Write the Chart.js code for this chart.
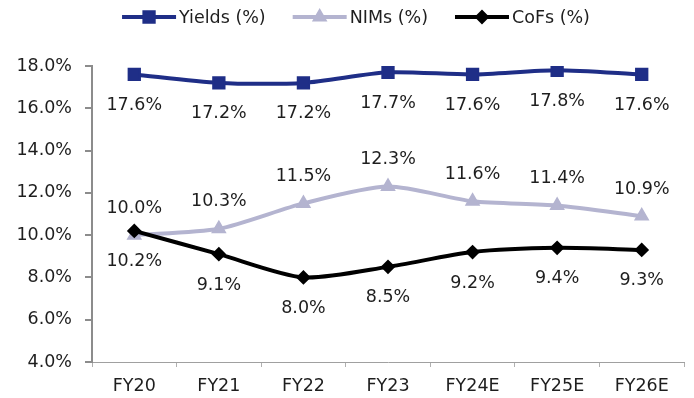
<!DOCTYPE html>
<html>
<head>
<meta charset="utf-8">
<script src="https://cdn.jsdelivr.net/npm/chart.js@4.4.1/dist/chart.umd.min.js"></script>
<style>
  html, body { margin: 0; padding: 0; background: #fff; }
  #wrap { width: 694px; height: 398px; }
</style>
</head>
<body>
<div id="wrap"><canvas id="ratesChart"></canvas></div>
<script>
// data
const years = ['FY20', 'FY21', 'FY22', 'FY23', 'FY24E', 'FY25E', 'FY26E'];
const yields = [17.6, 17.2, 17.2, 17.7, 17.6, 17.8, 17.6];
const nims = [10.0, 10.3, 11.5, 12.3, 11.6, 11.4, 10.9];
const cofs = [10.2, 9.1, 8.0, 8.5, 9.2, 9.4, 9.3];
const yTicks = [4, 6, 8, 10, 12, 14, 16, 18];

const FONT = 'DejaVu Sans';
const NAVY = '#1f2e87';
const LAV = '#b4b4d0';
const BLACK = '#000000';

// where each series puts its value label (px from the point)
const labelOffset = [31, -27, 31];

const valueLabels = {
    id: 'valueLabels',
    afterDatasetsDraw(chart) {
        const ctx = chart.ctx;
        ctx.save();
        ctx.font = '17.5px "' + FONT + '"';
        ctx.fillStyle = '#1e1e1e';
        ctx.textAlign = 'center';
        ctx.textBaseline = 'middle';
        chart.data.datasets.forEach((ds, i) => {
            chart.getDatasetMeta(i).data.forEach((pt, j) => {
                ctx.fillText(ds.data[j].toFixed(1) + '%', pt.x, pt.y + labelOffset[i]);
            });
        });
        ctx.restore();
    }
};

// legend with a short line + marker, like the office chart
const lineLegend = {
    id: 'lineLegend',
    afterDraw(chart) {
        const ctx = chart.ctx;
        const lineW = 54, gap = 3, space = 27, cy = 17;
        ctx.save();
        ctx.font = '17.5px "' + FONT + '"';
        const items = chart.data.datasets.map(ds => ({ ds, w: lineW + gap + ctx.measureText(ds.label).width }));
        const total = items.reduce((s, it) => s + it.w, 0) + space * (items.length - 1);
        let x = 356 - total / 2;
        items.forEach(it => {
            const ds = it.ds;
            ctx.strokeStyle = ds.borderColor;
            ctx.lineWidth = ds.borderWidth;
            ctx.beginPath();
            ctx.moveTo(x, cy);
            ctx.lineTo(x + lineW, cy);
            ctx.stroke();
            ctx.fillStyle = ds.pointBackgroundColor;
            ctx.strokeStyle = ds.pointBorderColor;
            ctx.lineWidth = ds.pointBorderWidth;
            Chart.helpers.drawPoint(ctx, { pointStyle: ds.pointStyle, radius: ds.pointRadius, borderWidth: ds.pointBorderWidth }, x + lineW / 2, cy);
            ctx.fillStyle = '#1e1e1e';
            ctx.textAlign = 'left';
            ctx.textBaseline = 'middle';
            ctx.fillText(ds.label, x + lineW + gap, cy + 1);
            x += it.w + space;
        });
        ctx.restore();
    }
};

function series(label, data, color, style, radius, order) {
    return {
        label: label,
        data: data,
        order: order,
        borderColor: color,
        backgroundColor: color,
        borderWidth: 4,
        tension: 0.25,
        pointStyle: style,
        pointRadius: radius,
        pointHoverRadius: radius,
        pointBackgroundColor: color,
        pointBorderColor: color,
        pointBorderWidth: 2
    };
}

function build() {
    const ctx = document.getElementById('ratesChart').getContext('2d');
    return new Chart(ctx, {
        type: 'line',
        data: {
            labels: years,
            datasets: [
                series('Yields (%)', yields, NAVY, 'rect', 8, 0),
                series('NIMs (%)', nims, LAV, 'triangle', 7, 2),
                series('CoFs (%)', cofs, BLACK, 'rectRot', 6, 1)
            ]
        },
        options: {
            responsive: true,
            maintainAspectRatio: false,
            animation: false,
            layout: { padding: { top: 66, right: 5, bottom: 0, left: 0 } },
            plugins: {
                legend: { display: false },
                tooltip: { enabled: false }
            },
            scales: {
                x: {
                    offset: true,
                    afterFit(scale) { scale.height = 36; },
                    grid: { offset: true, drawOnChartArea: false, color: '#b0b0b0', tickLength: 5 },
                    border: { color: '#a0a0a0', width: 1, dash: [2, 2] },
                    ticks: { color: '#1e1e1e', font: { family: FONT, size: 17.5 }, padding: 9 }
                },
                y: {
                    min: 4,
                    max: 18,
                    afterFit(scale) { scale.width = 92; },
                    afterBuildTicks(scale) { scale.ticks = yTicks.map(v => ({ value: v })); },
                    grid: { drawOnChartArea: false, color: '#8c8c8c', tickLength: 7, lineWidth: 2 },
                    border: { color: '#8c8c8c', width: 2 },
                    ticks: {
                        color: '#1e1e1e',
                        font: { family: FONT, size: 17.5 },
                        padding: 13,
                        callback: v => v.toFixed(1) + '%'
                    }
                }
            }
        },
        plugins: [valueLabels, lineLegend]
    });
}

// make sure the system font is picked up before the first draw
document.fonts.load('17.5px "' + FONT + '"').then(build, build);
</script>
</body>
</html>
